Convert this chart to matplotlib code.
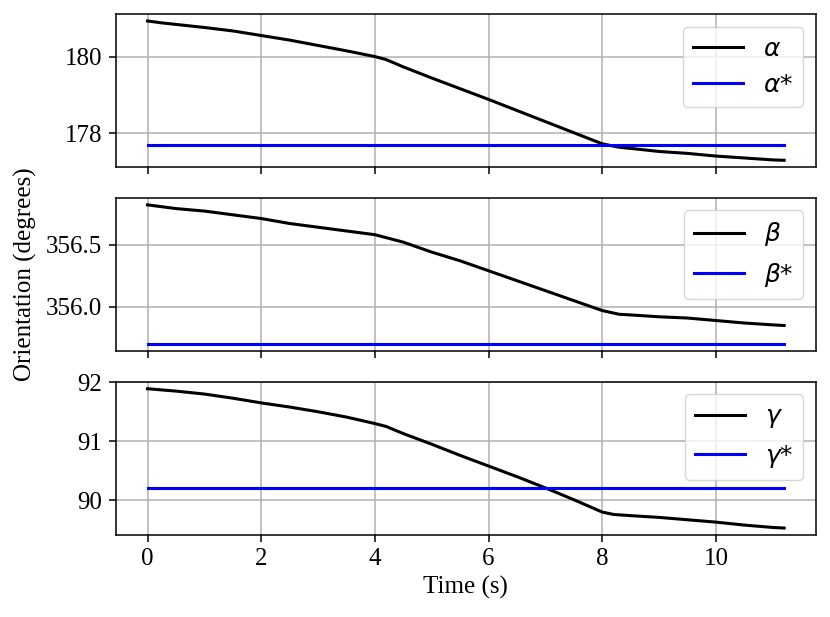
import numpy as np
import matplotlib
matplotlib.use("Agg")
import matplotlib.pyplot as plt

# time stamps (s) and orientation readings (degrees)
t_alpha = [0, 0.25, 0.5, 1, 1.5, 2, 2.5, 3, 3.5, 4, 4.2, 4.5, 5, 5.5, 6, 6.5, 7, 7.5,
           8, 8.3, 8.5, 9, 9.5, 10, 10.5, 11, 11.2]
alpha = [180.93, 180.88, 180.84, 180.76, 180.67, 180.55, 180.43, 180.29, 180.15, 180.00,
         179.92, 179.73, 179.44, 179.16, 178.88, 178.59, 178.30, 178.01, 177.72, 177.63,
         177.60, 177.52, 177.47, 177.40, 177.35, 177.30, 177.29]
alpha_ref = 177.69

t_beta = [0, 0.5, 1, 1.5, 2, 2.5, 3, 3.5, 4, 4.5, 5, 5.5, 6, 6.5, 7, 7.5, 8, 8.3, 8.5,
          9, 9.5, 10, 10.5, 11, 11.2]
beta = [356.82, 356.79, 356.77, 356.74, 356.71, 356.67, 356.64, 356.61, 356.58, 356.52,
        356.44, 356.37, 356.29, 356.21, 356.13, 356.05, 355.97, 355.94, 355.935, 355.92,
        355.91, 355.89, 355.87, 355.855, 355.85]
beta_ref = 355.70

t_gamma = [0, 0.5, 1, 1.5, 2, 2.5, 3, 3.5, 4, 4.2, 4.5, 5, 5.5, 6, 6.5, 7, 7.5, 8, 8.2,
           8.5, 9, 9.5, 10, 10.5, 11, 11.2]
gamma = [91.89, 91.85, 91.80, 91.73, 91.65, 91.58, 91.50, 91.41, 91.30, 91.25, 91.13,
         90.95, 90.76, 90.58, 90.40, 90.21, 90.01, 89.80, 89.76, 89.74, 89.71, 89.67,
         89.63, 89.58, 89.54, 89.53]
gamma_ref = 90.20

plt.rcParams["font.family"] = ["Liberation Serif", "DejaVu Serif"]
plt.rcParams["font.size"] = 18
plt.rcParams["axes.linewidth"] = 1.1
plt.rcParams["xtick.major.size"] = 4.8
plt.rcParams["ytick.major.size"] = 4.8
plt.rcParams["xtick.major.width"] = 1.1
plt.rcParams["ytick.major.width"] = 1.1
plt.rcParams["xtick.major.pad"] = 4.8
plt.rcParams["ytick.major.pad"] = 4.8
plt.rcParams["grid.linewidth"] = 1.1

fig, axs = plt.subplots(3, 1, sharex=True, figsize=(8.3, 6.17), dpi=100)
fig.subplots_adjust(left=0.1394, right=0.9831, top=0.9773, bottom=0.1329, hspace=0.2)

series = [
    (t_alpha, alpha, alpha_ref, r"$\alpha$"),
    (t_beta, beta, beta_ref, r"$\beta$"),
    (t_gamma, gamma, gamma_ref, r"$\gamma$"),
]
for ax, (t, y, ref, name) in zip(axs, series):
    ax.plot(t, y, color="black", lw=2.2, label=name)
    ax.plot([t[0], t[-1]], [ref, ref], color="blue", lw=2.2, label=name + "*")
    ax.grid(True)
    ax.legend(loc="upper right", prop={"family": "DejaVu Sans", "size": 18})

axs[0].set_yticks([178, 180])
axs[1].set_yticks([356.0, 356.5])
axs[1].yaxis.set_major_formatter(matplotlib.ticker.FormatStrFormatter("%.1f"))
axs[2].set_yticks([90, 91, 92])
axs[2].set_xlabel("Time (s)")
fig.text(0.031, (0.9773 + 0.1329) / 2, "Orientation (degrees)", rotation=90,
         va="center", ha="center", fontsize=18)

plt.savefig("out.png", dpi=100)
